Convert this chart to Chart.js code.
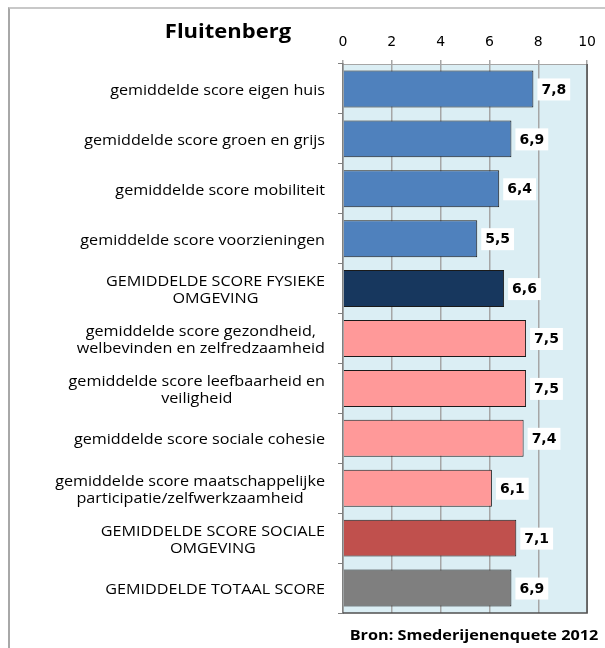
<!DOCTYPE html>
<html>
<head>
<meta charset="utf-8">
<script src="https://cdn.jsdelivr.net/npm/chart.js@4.4.0/dist/chart.umd.min.js"></script>
<style>
  body { margin: 0; background: #fff; }
  #wrap { position: relative; width: 605px; height: 648px; overflow: hidden; }
  #frame { position: absolute; left: 8px; top: 7px; width: 700px; height: 700px;
           border-top: 2px solid #c8c8c8; border-left: 2px solid #a8a8a8; }
  #title { position: absolute; left: 128px; width: 200px; top: 17px; text-align: center;
           font: bold 20px 'Open Sans'; color: #000; transform: scaleX(1.1); }
  #source { position: absolute; right: 7px; top: 625px; font: bold 14px 'Open Sans'; color: #000;
            transform: scaleX(1.16); transform-origin: right center; }
  canvas { position: absolute; left: 0; top: 0; }
</style>
</head>
<body>
<div id="wrap">
  <div id="frame"></div>
  <canvas id="chart" width="605" height="648"></canvas>
  <div id="title">Fluitenberg</div>
  <div id="source">Bron: Smederijenenquete 2012</div>
</div>
<script>
const categories = [
  ['gemiddelde score eigen huis'],
  ['gemiddelde score groen en grijs'],
  ['gemiddelde score mobiliteit'],
  ['gemiddelde score voorzieningen'],
  ['GEMIDDELDE SCORE FYSIEKE', 'OMGEVING'],
  ['gemiddelde score gezondheid,', 'welbevinden en zelfredzaamheid'],
  ['gemiddelde score leefbaarheid en', 'veiligheid'],
  ['gemiddelde score sociale cohesie'],
  ['gemiddelde score maatschappelijke', 'participatie/zelfwerkzaamheid'],
  ['GEMIDDELDE SCORE SOCIALE', 'OMGEVING'],
  ['GEMIDDELDE TOTAAL SCORE']
];
const scores = [7.8, 6.9, 6.4, 5.5, 6.6, 7.5, 7.5, 7.4, 6.1, 7.1, 6.9];
const barColors = ['#4f81bd', '#4f81bd', '#4f81bd', '#4f81bd', '#17375e',
  '#ff9999', '#ff9999', '#ff9999', '#ff9999', '#c0504d', '#7f7f7f'];
const xTicks = [0, 2, 4, 6, 8, 10];

const fmt = v => v.toFixed(1).replace('.', ',');

// light blue plot background + darker right/bottom edge
const plotBg = {
  id: 'plotBg',
  beforeDraw(chart) {
    const { ctx, chartArea: a } = chart;
    ctx.save();
    ctx.fillStyle = '#dbeef4';
    ctx.fillRect(a.left, a.top, a.right - a.left, a.bottom - a.top);
    ctx.restore();
  },
  afterDraw(chart) {
    const { ctx, chartArea: a } = chart;
    ctx.save();
    ctx.strokeStyle = '#505050';
    ctx.lineWidth = 1.5;
    ctx.beginPath();
    ctx.moveTo(a.right, a.top);
    ctx.lineTo(a.right, a.bottom);
    ctx.lineTo(a.left, a.bottom);
    ctx.stroke();
    ctx.restore();
  }
};

// category labels: block right-aligned to axis, lines centred inside the block
// (text is a bit stretched sideways, like the original)
const yLabels = {
  id: 'yLabels',
  afterDraw(chart) {
    const ctx = chart.ctx, sc = chart.scales.y;
    const k = 1.155, lh = 17;
    ctx.save();
    ctx.font = '14px "Open Sans"';
    ctx.fillStyle = '#000';
    ctx.textAlign = 'center';
    ctx.textBaseline = 'middle';
    categories.forEach((lines, i) => {
      const y = sc.getPixelForTick(i) + 2;
      const w = Math.max(...lines.map(l => ctx.measureText(l).width));
      ctx.save();
      ctx.translate(sc.right - 18, y);
      ctx.scale(k, 1);
      lines.forEach((l, j) => ctx.fillText(l, -w / 2, (j - (lines.length - 1) / 2) * lh));
      ctx.restore();
    });
    ctx.restore();
  }
};

// value labels in white boxes
const valueLabels = {
  id: 'valueLabels',
  afterDatasetsDraw(chart) {
    const ctx = chart.ctx;
    const meta = chart.getDatasetMeta(0);
    ctx.save();
    ctx.font = 'bold 14px "DejaVu Sans"';
    ctx.textBaseline = 'middle';
    meta.data.forEach((bar, i) => {
      const t = fmt(scores[i]);
      const w = ctx.measureText(t).width;
      const x = bar.x + 4;
      ctx.fillStyle = '#fff';
      ctx.fillRect(x, bar.y - 10.5, w + 8, 22);
      ctx.fillStyle = '#000';
      ctx.fillText(t, x + 4, bar.y + 1);
    });
    ctx.restore();
  }
};

new Chart(document.getElementById('chart'), {
  type: 'bar',
  data: {
    labels: categories,
    datasets: [{
      data: scores,
      backgroundColor: barColors,
      borderColor: '#1a1a1a',
      borderWidth: 1,
      barPercentage: 0.74,
      categoryPercentage: 1
    }]
  },
  options: {
    indexAxis: 'y',
    responsive: false,
    animation: false,
    layout: { padding: { left: 0, top: 0, right: 16, bottom: 35 } },
    plugins: { legend: { display: false }, tooltip: { enabled: false } },
    scales: {
      x: {
        position: 'top',
        min: 0,
        max: 10,
        afterFit: s => { s.height = 64; },
        afterBuildTicks: s => { s.ticks = xTicks.map(v => ({ value: v })); },
        ticks: { padding: 9, color: '#000', font: { family: 'DejaVu Sans', size: 14 } },
        grid: { color: '#a6a6a6', lineWidth: 1.5, tickLength: 4 },
        border: { color: '#a6a6a6' }
      },
      y: {
        afterFit: s => { s.width = 343; },
        ticks: { display: false },
        grid: { drawOnChartArea: false, tickLength: 5, color: '#808080' },
        border: { color: '#808080', width: 1.5 }
      }
    }
  },
  plugins: [plotBg, yLabels, valueLabels]
});
</script>
</body>
</html>
